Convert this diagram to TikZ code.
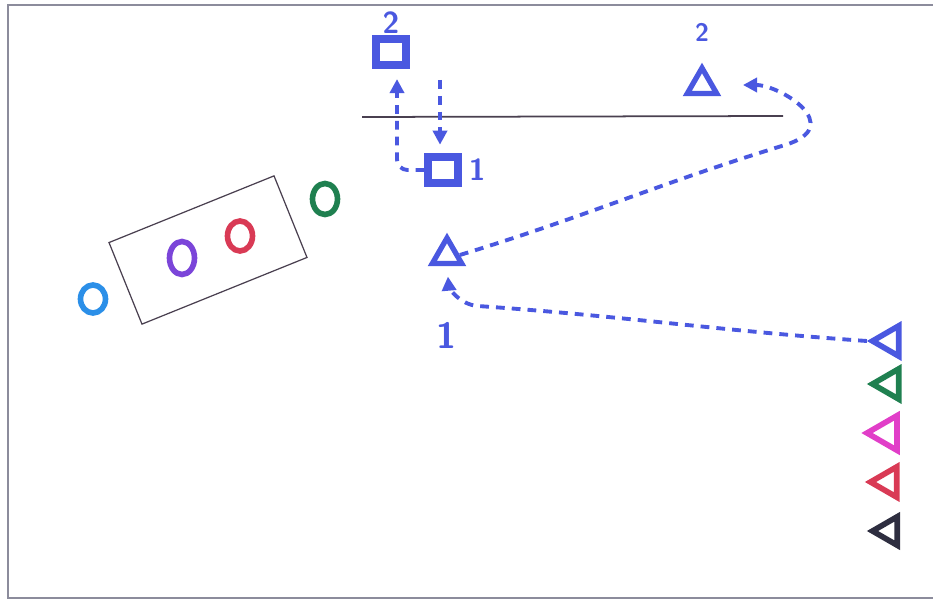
\documentclass[tikz,border=0pt]{standalone}
\usepackage{xcolor}
\usepackage{tikz}
\usetikzlibrary{shapes.geometric, arrows.meta, positioning}
\definecolor{markblue}{HTML}{4A58E0}
\definecolor{ringblue}{HTML}{2B8FE8}
\definecolor{ringpurple}{HTML}{7B45D9}
\definecolor{ringred}{HTML}{D93A55}
\definecolor{ringgreen}{HTML}{1F8050}
\definecolor{flagmagenta}{HTML}{E13EC8}
\definecolor{flagdark}{HTML}{2E2E40}
\definecolor{framegray}{HTML}{8C8C9C}
\definecolor{linedark}{HTML}{4A4050}
\tikzset{
  sqmark/.style={
    rectangle, draw=markblue, line width=4pt,
    minimum width=0.6cm, minimum height=0.52cm, inner sep=0pt,
  },
  trimark/.style={
    regular polygon, regular polygon sides=3,
    draw=markblue, line width=3pt,
    minimum size=0.68cm, inner sep=0pt,
  },
  flagmark/.style={
    regular polygon, regular polygon sides=3, shape border rotate=90,
    line width=3.2pt, minimum size=0.7cm, inner sep=0pt,
  },
  ringmark/.style={
    ellipse, line width=3.2pt,
    minimum width=0.5cm, minimum height=0.6cm, inner sep=0pt,
  },
  num/.style={font=\sffamily\bfseries\LARGE, text=markblue, inner sep=1pt},
  run/.style={
    -{Triangle[length=8pt, width=8pt]}, line width=2.2pt,
    color=markblue, dash pattern=on 5pt off 4pt,
  },
  frame/.style={draw=framegray, line width=1.2pt},
}
\begin{document}
\begin{tikzpicture}[x=0.02cm, y=-0.02cm]
  \useasboundingbox (0,0) rectangle (933,601);
  \draw[frame] (933,5) -- (8,5) -- (8,598) -- (933,598);

  % bench and rings
  \node[draw=linedark, line width=0.7pt, rotate=22,
        minimum width=3.56cm, minimum height=1.76cm] (bench) at (208,250) {};
  \node[ringmark, draw=ringblue, minimum height=0.56cm] (ringA) at (93,299) {};
  \node[ringmark, draw=ringpurple, minimum height=0.66cm] (ringB) at (182,258) {};
  \node[ringmark, draw=ringred] (ringC) at (240,236) {};
  \node[ringmark, draw=ringgreen, minimum height=0.62cm] (ringD) at (325,199) {};

  % line
  \coordinate (lineL) at (362,117);
  \coordinate (lineR) at (783,116);
  \draw[linedark, line width=1pt] (lineL) -- (lineR);

  % squares
  \node[sqmark] (sq2) at (391,52) {};
  \node[sqmark] (sq1) at (443,170) {};
  \node[num, above=0pt of sq2] (lblsq2) {2};
  \node[num, right=3pt of sq1] (lblsq1) {1};

  % triangles
  \node[trimark] (tri2) at (702,85) {};
  \node[trimark] (tri1) at (447,255) {};
  \node[num, font=\sffamily\bfseries\Large, above=11pt of tri2] (lbltri2) {2};
  \node[num, font=\sffamily\bfseries\huge, below=31pt of tri1] (lbltri1) {1};

  % line-up on the right
  \node[flagmark, draw=markblue] (flagA) at (890,341) {};
  \node[flagmark, draw=ringgreen] (flagB) at (890,384) {};
  \node[flagmark, draw=flagmagenta, minimum size=0.8cm] (flagC) at (887,433) {};
  \node[flagmark, draw=ringred] (flagD) at (888,482) {};
  \node[flagmark, draw=flagdark, minimum size=0.66cm] (flagE) at (889,531) {};

  % runs
  \coordinate (dropA) at (440,80);
  \coordinate (bendA) at (478,306);
  \coordinate (bendB) at (785,145);
  \draw[run, rounded corners=6pt, shorten >=6pt] (sq1.west) -| ([xshift=0.12cm]sq2.south);
  \draw[run, shorten >=5pt] (dropA) -- (dropA |- sq1.north);
  \draw[run, shorten >=6pt] (flagA.west) to[out=176, in=-4] (bendA)
    to[out=176, in=-85] (tri1.south);
  \draw[run, shorten >=16pt] (tri1.east) to[out=17, in=197] (bendB)
    to[out=17, in=0, looseness=1.8] (tri2.east);

\end{tikzpicture}
\end{document}
